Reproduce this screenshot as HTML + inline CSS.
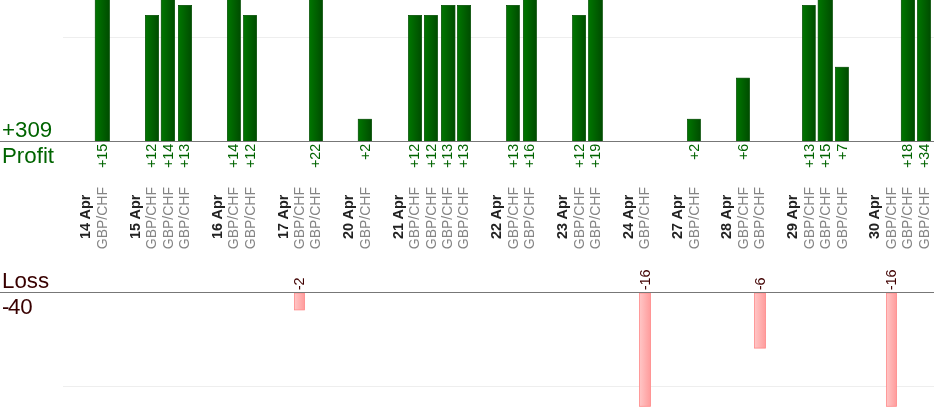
<!DOCTYPE html>
<html><head><meta charset="utf-8"><title>Profit / Loss</title>
<style>
html,body{margin:0;padding:0;background:#fff;}
body{width:934px;height:420px;overflow:hidden;font-family:"Liberation Sans",Arial,sans-serif;}
svg{display:block}
.pl{font-size:14.4px;fill:#006400}
.ll{font-size:14.5px;fill:#400000}
.pair{font-size:14px;fill:#848484}
.date{font-size:14.4px;font-weight:bold;fill:#222}
.big{font-size:22.3px}
</style></head><body>
<svg width="934" height="420" viewBox="0 0 934 420" font-family="Liberation Sans, Arial, sans-serif">
<defs>
<linearGradient id="g" x1="0" y1="0" x2="1" y2="0"><stop offset="0" stop-color="#007600"/><stop offset="1" stop-color="#004c00"/></linearGradient>
<linearGradient id="r" x1="0" y1="0" x2="1" y2="0"><stop offset="0" stop-color="#ffc6c6"/><stop offset="1" stop-color="#ff9c9c"/></linearGradient>
</defs>
<rect width="934" height="420" fill="#fff"/>
<rect x="63" y="37" width="871" height="1" fill="#eeeeee"/>
<rect x="63" y="386" width="871" height="1" fill="#eeeeee"/>

<rect x="95.25" y="-18.65" width="14.20" height="160.0" fill="url(#g)" stroke="#004a00" stroke-width="0.7"/>
<text class="pl" text-anchor="end" transform="translate(106.7,143.7) rotate(-90)">+15</text>
<text class="pair" transform="translate(106.7,249.2) rotate(-90)">GBP/CHF</text>
<rect x="145.35" y="15.35" width="13.30" height="126.0" fill="url(#g)" stroke="#004a00" stroke-width="0.7"/>
<text class="pl" text-anchor="end" transform="translate(156.0,143.7) rotate(-90)">+12</text>
<text class="pair" transform="translate(156.0,249.2) rotate(-90)">GBP/CHF</text>
<rect x="161.25" y="-18.65" width="13.40" height="160.0" fill="url(#g)" stroke="#004a00" stroke-width="0.7"/>
<text class="pl" text-anchor="end" transform="translate(172.5,143.7) rotate(-90)">+14</text>
<text class="pair" transform="translate(172.5,249.2) rotate(-90)">GBP/CHF</text>
<rect x="178.35" y="5.35" width="13.30" height="136.0" fill="url(#g)" stroke="#004a00" stroke-width="0.7"/>
<text class="pl" text-anchor="end" transform="translate(188.9,143.7) rotate(-90)">+13</text>
<text class="pair" transform="translate(188.9,249.2) rotate(-90)">GBP/CHF</text>
<rect x="227.35" y="-18.65" width="13.10" height="160.0" fill="url(#g)" stroke="#004a00" stroke-width="0.7"/>
<text class="pl" text-anchor="end" transform="translate(238.2,143.7) rotate(-90)">+14</text>
<text class="pair" transform="translate(238.2,249.2) rotate(-90)">GBP/CHF</text>
<rect x="243.55" y="15.35" width="13.10" height="126.0" fill="url(#g)" stroke="#004a00" stroke-width="0.7"/>
<text class="pl" text-anchor="end" transform="translate(254.7,143.7) rotate(-90)">+12</text>
<text class="pair" transform="translate(254.7,249.2) rotate(-90)">GBP/CHF</text>
<rect x="294.5" y="293" width="10.0" height="16.9" fill="url(#r)" stroke="#ff8888" stroke-width="0.8"/>
<text class="ll" text-anchor="start" transform="translate(304.1,290.3) rotate(-90)">-2</text>
<text class="pair" transform="translate(304.0,249.2) rotate(-90)">GBP/CHF</text>
<rect x="309.45" y="-18.65" width="13.10" height="160.0" fill="url(#g)" stroke="#004a00" stroke-width="0.7"/>
<text class="pl" text-anchor="end" transform="translate(320.4,143.7) rotate(-90)">+22</text>
<text class="pair" transform="translate(320.4,249.2) rotate(-90)">GBP/CHF</text>
<rect x="358.25" y="119.25" width="13.40" height="22.1" fill="url(#g)" stroke="#004a00" stroke-width="0.7"/>
<text class="pl" text-anchor="end" transform="translate(369.7,143.7) rotate(-90)">+2</text>
<text class="pair" transform="translate(369.7,249.2) rotate(-90)">GBP/CHF</text>
<rect x="408.45" y="15.35" width="13.20" height="126.0" fill="url(#g)" stroke="#004a00" stroke-width="0.7"/>
<text class="pl" text-anchor="end" transform="translate(419.1,143.7) rotate(-90)">+12</text>
<text class="pair" transform="translate(419.1,249.2) rotate(-90)">GBP/CHF</text>
<rect x="424.35" y="15.35" width="13.20" height="126.0" fill="url(#g)" stroke="#004a00" stroke-width="0.7"/>
<text class="pl" text-anchor="end" transform="translate(435.5,143.7) rotate(-90)">+12</text>
<text class="pair" transform="translate(435.5,249.2) rotate(-90)">GBP/CHF</text>
<rect x="441.35" y="5.35" width="13.60" height="136.0" fill="url(#g)" stroke="#004a00" stroke-width="0.7"/>
<text class="pl" text-anchor="end" transform="translate(451.9,143.7) rotate(-90)">+13</text>
<text class="pair" transform="translate(451.9,249.2) rotate(-90)">GBP/CHF</text>
<rect x="457.45" y="5.35" width="13.20" height="136.0" fill="url(#g)" stroke="#004a00" stroke-width="0.7"/>
<text class="pl" text-anchor="end" transform="translate(468.4,143.7) rotate(-90)">+13</text>
<text class="pair" transform="translate(468.4,249.2) rotate(-90)">GBP/CHF</text>
<rect x="506.55" y="5.35" width="12.80" height="136.0" fill="url(#g)" stroke="#004a00" stroke-width="0.7"/>
<text class="pl" text-anchor="end" transform="translate(517.7,143.7) rotate(-90)">+13</text>
<text class="pair" transform="translate(517.7,249.2) rotate(-90)">GBP/CHF</text>
<rect x="523.35" y="-18.65" width="13.10" height="160.0" fill="url(#g)" stroke="#004a00" stroke-width="0.7"/>
<text class="pl" text-anchor="end" transform="translate(534.1,143.7) rotate(-90)">+16</text>
<text class="pair" transform="translate(534.1,249.2) rotate(-90)">GBP/CHF</text>
<rect x="572.55" y="15.35" width="13.10" height="126.0" fill="url(#g)" stroke="#004a00" stroke-width="0.7"/>
<text class="pl" text-anchor="end" transform="translate(583.5,143.7) rotate(-90)">+12</text>
<text class="pair" transform="translate(583.5,249.2) rotate(-90)">GBP/CHF</text>
<rect x="588.55" y="-18.65" width="13.80" height="160.0" fill="url(#g)" stroke="#004a00" stroke-width="0.7"/>
<text class="pl" text-anchor="end" transform="translate(599.9,143.7) rotate(-90)">+19</text>
<text class="pair" transform="translate(599.9,249.2) rotate(-90)">GBP/CHF</text>
<rect x="639.5" y="293" width="11.0" height="113.3" fill="url(#r)" stroke="#ff8888" stroke-width="0.8"/>
<text class="ll" text-anchor="start" transform="translate(649.6,290.3) rotate(-90)">-16</text>
<text class="pair" transform="translate(649.2,249.2) rotate(-90)">GBP/CHF</text>
<rect x="687.45" y="119.25" width="13.00" height="22.1" fill="url(#g)" stroke="#004a00" stroke-width="0.7"/>
<text class="pl" text-anchor="end" transform="translate(698.5,143.7) rotate(-90)">+2</text>
<text class="pair" transform="translate(698.5,249.2) rotate(-90)">GBP/CHF</text>
<rect x="736.45" y="78.15" width="13.10" height="63.2" fill="url(#g)" stroke="#004a00" stroke-width="0.7"/>
<text class="pl" text-anchor="end" transform="translate(747.9,143.7) rotate(-90)">+6</text>
<text class="pair" transform="translate(747.9,249.2) rotate(-90)">GBP/CHF</text>
<rect x="754.5" y="293" width="11.0" height="55.1" fill="url(#r)" stroke="#ff8888" stroke-width="0.8"/>
<text class="ll" text-anchor="start" transform="translate(764.6,290.3) rotate(-90)">-6</text>
<text class="pair" transform="translate(764.3,249.2) rotate(-90)">GBP/CHF</text>
<rect x="802.45" y="5.35" width="12.80" height="136.0" fill="url(#g)" stroke="#004a00" stroke-width="0.7"/>
<text class="pl" text-anchor="end" transform="translate(813.6,143.7) rotate(-90)">+13</text>
<text class="pair" transform="translate(813.6,249.2) rotate(-90)">GBP/CHF</text>
<rect x="818.15" y="-18.65" width="14.30" height="160.0" fill="url(#g)" stroke="#004a00" stroke-width="0.7"/>
<text class="pl" text-anchor="end" transform="translate(830.1,143.7) rotate(-90)">+15</text>
<text class="pair" transform="translate(830.1,249.2) rotate(-90)">GBP/CHF</text>
<rect x="835.45" y="67.25" width="13.00" height="74.1" fill="url(#g)" stroke="#004a00" stroke-width="0.7"/>
<text class="pl" text-anchor="end" transform="translate(846.5,143.7) rotate(-90)">+7</text>
<text class="pair" transform="translate(846.5,249.2) rotate(-90)">GBP/CHF</text>
<rect x="886.5" y="293" width="10.0" height="113.3" fill="url(#r)" stroke="#ff8888" stroke-width="0.8"/>
<text class="ll" text-anchor="start" transform="translate(896.1,290.3) rotate(-90)">-16</text>
<text class="pair" transform="translate(895.8,249.2) rotate(-90)">GBP/CHF</text>
<rect x="901.30" y="-18.65" width="13.30" height="160.0" fill="url(#g)" stroke="#004a00" stroke-width="0.7"/>
<text class="pl" text-anchor="end" transform="translate(912.3,143.7) rotate(-90)">+18</text>
<text class="pair" transform="translate(912.3,249.2) rotate(-90)">GBP/CHF</text>
<rect x="917.45" y="-18.65" width="13.15" height="160.0" fill="url(#g)" stroke="#004a00" stroke-width="0.7"/>
<text class="pl" text-anchor="end" transform="translate(928.7,143.7) rotate(-90)">+34</text>
<text class="pair" transform="translate(928.7,249.2) rotate(-90)">GBP/CHF</text>
<text class="date" transform="translate(90.3,238.9) rotate(-90)">14 Apr</text>
<text class="date" transform="translate(139.6,238.9) rotate(-90)">15 Apr</text>
<text class="date" transform="translate(221.8,238.9) rotate(-90)">16 Apr</text>
<text class="date" transform="translate(287.5,238.9) rotate(-90)">17 Apr</text>
<text class="date" transform="translate(353.3,238.9) rotate(-90)">20 Apr</text>
<text class="date" transform="translate(402.6,238.9) rotate(-90)">21 Apr</text>
<text class="date" transform="translate(501.3,238.9) rotate(-90)">22 Apr</text>
<text class="date" transform="translate(567.0,238.9) rotate(-90)">23 Apr</text>
<text class="date" transform="translate(632.8,238.9) rotate(-90)">24 Apr</text>
<text class="date" transform="translate(682.1,238.9) rotate(-90)">27 Apr</text>
<text class="date" transform="translate(731.4,238.9) rotate(-90)">28 Apr</text>
<text class="date" transform="translate(797.2,238.9) rotate(-90)">29 Apr</text>
<text class="date" transform="translate(879.4,238.9) rotate(-90)">30 Apr</text>
<rect x="0" y="141" width="934" height="1" fill="#777"/>
<rect x="0" y="292" width="934" height="1" fill="#777"/>
<text class="big" x="2" y="137.4" fill="#006400">+309</text>
<text class="big" x="2" y="163" fill="#006400">Profit</text>
<text class="big" x="2" y="287.9" fill="#380000">Loss</text>
<text class="big" x="2" y="313.9" fill="#380000">-<tspan dx="-1.5">40</tspan></text>
</svg>
</body></html>
